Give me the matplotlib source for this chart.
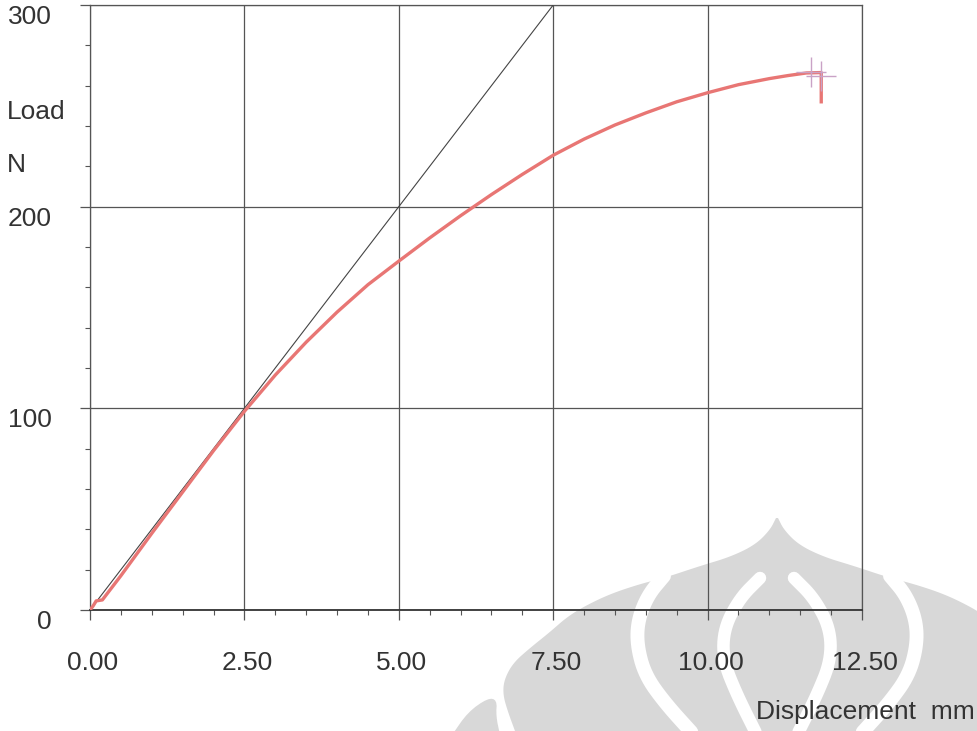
import numpy as np
import matplotlib
matplotlib.use("Agg")
import matplotlib.pyplot as plt
from matplotlib.patches import Polygon
from matplotlib.lines import Line2D
from matplotlib.ticker import MultipleLocator

plt.rcParams['font.family'] = ['Liberation Sans', 'DejaVu Sans']

# load-displacement record (mm, N)
disp = [0.0, 0.05, 0.1, 0.2, 0.3, 0.5, 1.0, 1.5, 2.0, 2.5, 3.0, 3.5, 4.0, 4.5,
        5.0, 5.5, 6.0, 6.5, 7.0, 7.5, 8.0, 8.5, 9.0, 9.5, 10.0, 10.5, 11.0,
        11.3, 11.6, 11.84, 11.84]
load = [0.0, 2.0, 4.5, 5.0, 9.0, 17.0, 38.0, 58.5, 79.0, 98.5, 116.5, 132.8,
        147.7, 161.3, 173.0, 184.5, 195.5, 206.0, 216.0, 225.5, 233.5, 240.5,
        246.5, 252.0, 256.5, 260.5, 263.5, 265.0, 266.3, 266.5, 252.0]

# initial stiffness line
stiff_x = [0.0, 7.5]
stiff_y = [0.0, 300.0]

# cursor marks at the end of the test
mark_x = [11.67, 11.83]
mark_y = [267.0, 265.0]

x_ticks = [0.0, 2.5, 5.0, 7.5, 10.0, 12.5]
x_labels = ['0.00', '2.50', '5.00', '7.50', '10.00', '12.50']
y_ticks = [0, 100, 200, 300]
y_labels = ['0', '100', '200', '300']

W, H = 977, 731
fig = plt.figure(figsize=(W / 100, H / 100), dpi=100)
fig.patch.set_facecolor('white')


def to_fig(pts):
    return [(x / W, 1 - y / H) for x, y in pts]


def smooth(pts, n=3):
    # chaikin corner cutting, keeps end points
    pts = np.asarray(pts, float)
    for _ in range(n):
        q = 0.75 * pts[:-1] + 0.25 * pts[1:]
        r = 0.25 * pts[:-1] + 0.75 * pts[1:]
        mid = np.empty((2 * len(q), 2))
        mid[0::2] = q
        mid[1::2] = r
        pts = np.vstack([pts[:1], mid, pts[-1:]])
    return pts


# background logo stamp
cx = 777
wm = '#d8d8d8'
half = [(776, 518), (770, 530), (755, 545), (730, 557), (700, 566),
        (664, 578), (640, 584), (610, 594), (585, 606), (567, 617),
        (550, 632), (530, 648), (513, 663), (504, 680), (503, 695),
        (508, 712), (515, 731)]
left = smooth(half)
right = [(2 * cx - x, y) for x, y in left[::-1]]
outline = [tuple(p) for p in left] + [(515, 740), (2 * cx - 515, 740)] + right
fig.add_artist(Polygon(to_fig(outline), closed=True, fc=wm, ec='none',
                       transform=fig.transFigure, zorder=-10))
crescent = smooth([(452, 735), (468, 712), (488, 698), (497, 700), (496, 716), (500, 735)], 2)
fig.add_artist(Polygon(to_fig(crescent), closed=True, fc=wm, ec='none',
                       transform=fig.transFigure, zorder=-10))

outer = [(664, 576), (648, 595), (638, 620), (637, 645), (645, 675), (665, 703), (694, 735)]
inner = [(760, 578), (740, 598), (724, 628), (723, 660), (737, 695), (757, 735)]
for path, lw in [(outer, 10), (inner, 9)]:
    for side in (1, -1):
        pts = smooth([(x if side == 1 else 2 * cx - x, y) for x, y in path])
        f = np.array(to_fig(pts))
        fig.add_artist(Line2D(f[:, 0], f[:, 1], color='white', lw=lw,
                              solid_capstyle='round', transform=fig.transFigure,
                              zorder=-9))

ax = fig.add_axes([90 / W, 1 - 610 / H, 772 / W, 605 / H])
ax.set_facecolor('none')
ax.set_xlim(0, 12.5)
ax.set_ylim(0, 300)

ax.set_xticks(x_ticks)
ax.set_yticks(y_ticks)
ax.xaxis.set_minor_locator(MultipleLocator(0.5))
ax.yaxis.set_minor_locator(MultipleLocator(20))
ax.tick_params(which='major', direction='out', length=7.5, width=0.9,
               color='#555555', labelbottom=False, labelleft=False)
ax.tick_params(which='minor', direction='out', length=3.5, width=0.8,
               color='#555555')
ax.grid(True, which='major', color='#555555', lw=0.9)
for s in ax.spines.values():
    s.set_color('#555555')
    s.set_linewidth(0.9)
ax.spines['bottom'].set_color('#333333')
ax.spines['bottom'].set_linewidth(1.3)

ax.plot(stiff_x, stiff_y, color='#444444', lw=0.8, zorder=3)
ax.plot(disp, load, color='#e87674', lw=2.4, zorder=4, solid_joinstyle='round')
ax.plot(mark_x, mark_y, ls='none', marker='+', ms=21, mew=1.0,
        color='#c9a2c6', zorder=5)

txt = dict(fontsize=19, color='#333333')
for v, s in zip(x_ticks, x_labels):
    ax.annotate(s, xy=(v, 0), xycoords=('data', 'axes fraction'),
                xytext=(3, -53), textcoords='offset pixels',
                ha='center', va='center', **txt)
for v, s in zip(y_ticks, y_labels):
    ax.annotate(s, xy=(0, v), xycoords=('axes fraction', 'data'),
                xytext=(-38, -12), textcoords='offset pixels',
                ha='right', va='center', **txt)

fig.text(7 / W, 1 - 112 / H, 'Load', ha='left', va='center', **txt)
fig.text(7 / W, 1 - 165 / H, 'N', ha='left', va='center', **txt)
fig.text(975 / W, 1 - 712 / H, 'Displacement  mm', ha='right', va='center', **txt)

fig.savefig('out.png', dpi=100, facecolor='white')
